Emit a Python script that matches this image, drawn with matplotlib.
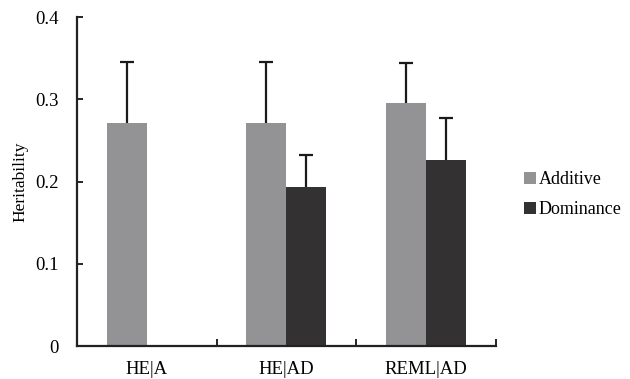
import numpy as np
import matplotlib.pyplot as plt

plt.rcParams['font.family'] = ['Liberation Serif', 'DejaVu Serif']

# data
categories = ["HE|A", "HE|AD", "REML|AD"]
additive = [0.271, 0.271, 0.295]
additive_err = [0.074, 0.074, 0.049]
dominance = [np.nan, 0.193, 0.226]
dominance_err = [np.nan, 0.039, 0.051]

GRAY = "#939396"
DARK = "#333132"
ECOL = "#1a1a1a"

fig = plt.figure(figsize=(6.3, 3.79), dpi=100)
ax = fig.add_axes([0.122, 0.087, 0.665, 0.868])

x = np.arange(len(categories))
w = 0.286


def upper_err(xpos, vals, errs):
    # only the upper half of the error bar, with a cap on top
    vals = np.asarray(vals)
    errs = np.asarray(errs)
    ax.vlines(xpos, vals, vals + errs, color=ECOL, linewidth=1.6, zorder=3)
    ax.plot(xpos, vals + errs, "_", color=ECOL, markersize=10,
            markeredgewidth=1.6, zorder=3)


ax.bar(x - w/2, additive, w, color=GRAY, label="Additive")
ax.bar(x + w/2, dominance, w, color=DARK, label="Dominance")
upper_err(x - w/2, additive, additive_err)
upper_err(x + w/2, dominance, dominance_err)

ax.set_xlim(-0.5, 2.5)
ax.set_ylim(0, 0.4)
ax.set_yticks([0, 0.1, 0.2, 0.3, 0.4])
ax.set_yticklabels(["0", "0.1", "0.2", "0.3", "0.4"], fontsize=13.5)
ax.set_xticks(x)
ax.set_xticklabels(categories, fontsize=13.5)
ax.set_xticks([0.5, 1.5, 2.5], minor=True)
ax.tick_params(axis="x", which="major", length=0, pad=11)
ax.tick_params(axis="x", which="minor", direction="in", length=5, width=1.2)
ax.tick_params(axis="y", direction="in", length=4, width=1.2, pad=13)
ax.set_ylabel("Heritability", fontsize=12.5, labelpad=5)

for s in ["top", "right"]:
    ax.spines[s].set_visible(False)
for s in ["left", "bottom"]:
    ax.spines[s].set_linewidth(1.6)
    ax.spines[s].set_color("#222222")

ax.legend(loc="center left", bbox_to_anchor=(1.029, 0.46), frameon=False,
          fontsize=13, handlelength=0.65, handleheight=0.65, handletextpad=0.15,
          labelspacing=0.75)

fig.savefig("out.png", dpi=100)
